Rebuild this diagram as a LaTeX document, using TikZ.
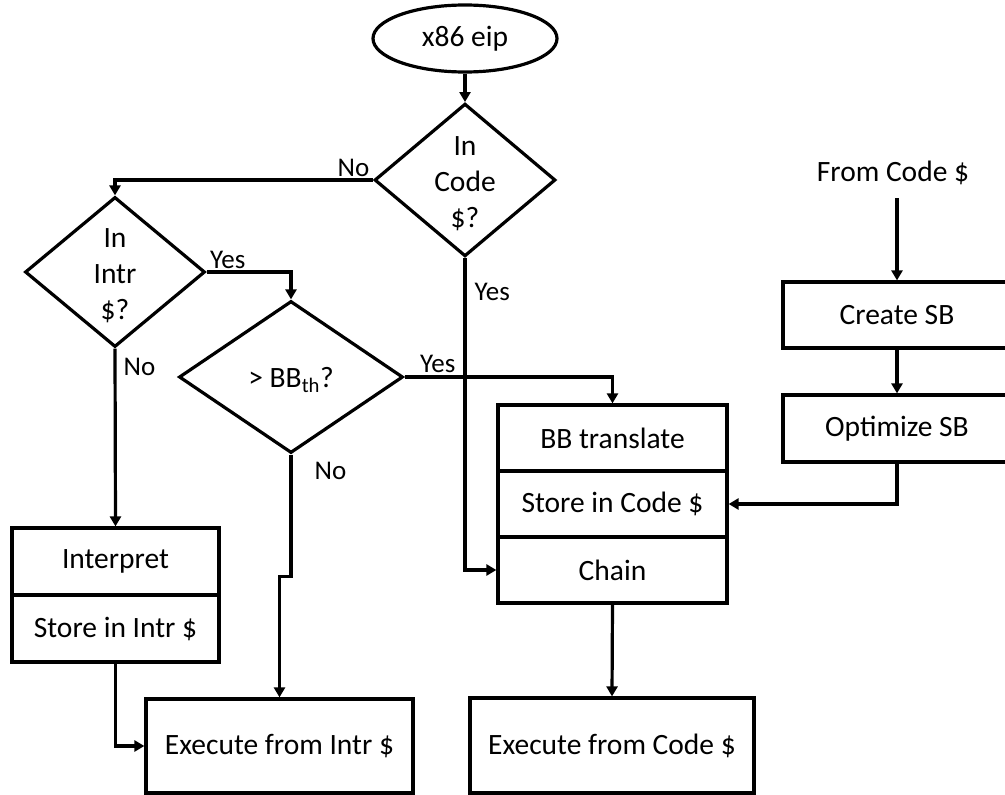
\documentclass[tikz,border=0pt]{standalone}
\usepackage{fontspec}
\setmainfont{Carlito}
\usetikzlibrary{shapes.geometric,arrows.meta}
\newcommand{\toppad}{\rule{0pt}{26pt}}
\begin{document}
\begin{tikzpicture}[x=1pt,y=-1pt,
  line width=3.2pt,
  every node/.style={font=\fontsize{29.5pt}{36pt}\selectfont, inner sep=0pt},
  box/.style={draw, rectangle, align=center},
  decision/.style={draw, diamond, align=center, inner ysep=-5pt},
  terminal/.style={draw, ellipse},
  lbl/.style={font=\fontsize{27pt}{32pt}\selectfont, inner sep=0pt},
  arr/.style={-{Triangle[length=10pt,width=11pt]}}
]
\useasboundingbox (0,0) rectangle (1005,795);

% start and decisions
\node[terminal, minimum width=184pt, minimum height=67pt] (eip) at (465,38.5) {x86 eip};
\node[decision, minimum width=181pt, minimum height=151pt] (code) at (465,180) {\toppad In\\Code\\\$?};
\node[decision, minimum width=180pt, minimum height=150pt] (intr) at (115,272) {\toppad In\\Intr\\\$?};
\node[decision, minimum width=224pt, minimum height=152pt] (bb) at (291,377) {\toppad > BB\textsubscript{th}?};

% translation stack
\node[box, minimum width=229pt, minimum height=66pt] (bbt) at (612.5,438) {BB translate};
\node[box, minimum width=229pt, minimum height=66pt] (stc) at (612.5,504) {Store in Code \$};
\node[box, minimum width=229pt, minimum height=66pt] (chain) at (612.5,570) {Chain};

% interpreter stack
\node[box, minimum width=207pt, minimum height=67pt] (interp) at (115.5,561.5) {Interpret};
\node[box, minimum width=207pt, minimum height=67pt] (sti) at (115.5,628.5) {Store in Intr \$};

% execution
\node[box, minimum width=267pt, minimum height=94pt] (exi) at (279.5,746) {Execute from Intr \$};
\node[box, minimum width=284pt, minimum height=95pt] (exc) at (612,745.5) {Execute from Code \$};

% superblock path
\node (from) at (893,173) {From Code \$};
\node[box, minimum width=228pt, minimum height=66pt] (csb) at (897,315) {Create SB};
\node[box, minimum width=228pt, minimum height=67pt] (osb) at (897,428.5) {Optimize SB};

% connectors
\draw[arr] (eip.south) -- (code.north);
\draw[arr] (code.west) -| node[lbl, at start, anchor=base east, xshift=-2pt, yshift=3.5pt] {No} (intr.north);
\draw[arr] (intr.east) -| node[lbl, at start, anchor=base west, xshift=2pt, yshift=3.5pt] {Yes} (bb.north);
\draw[arr] (bb.east) -| node[lbl, at start, anchor=base west, xshift=14pt, yshift=4.5pt] {Yes} (bbt.north);
\draw[arr] (code.south) |- node[lbl, at start, anchor=base west, xshift=8pt, yshift=-42.5pt] {Yes} (chain.west);
\draw[arr] (intr.south) -- node[lbl, at start, anchor=base west, xshift=7pt, yshift=-26.5pt] {No} (interp.north);
\draw[arr] (bb.south) node[lbl, anchor=base west, xshift=22pt, yshift=-24.5pt] {No} -- ++(0,122) -| (exi.north);
\draw[arr] (sti.south) |- (exi.west);
\draw[arr] (chain.south) -- (exc.north);
\draw[arr, shorten <=12pt] (from.south -| csb.north) -- (csb.north);
\draw[arr] (csb.south) -- (osb.north);
\draw[arr] (osb.south) |- (stc.east);
\end{tikzpicture}
\end{document}
